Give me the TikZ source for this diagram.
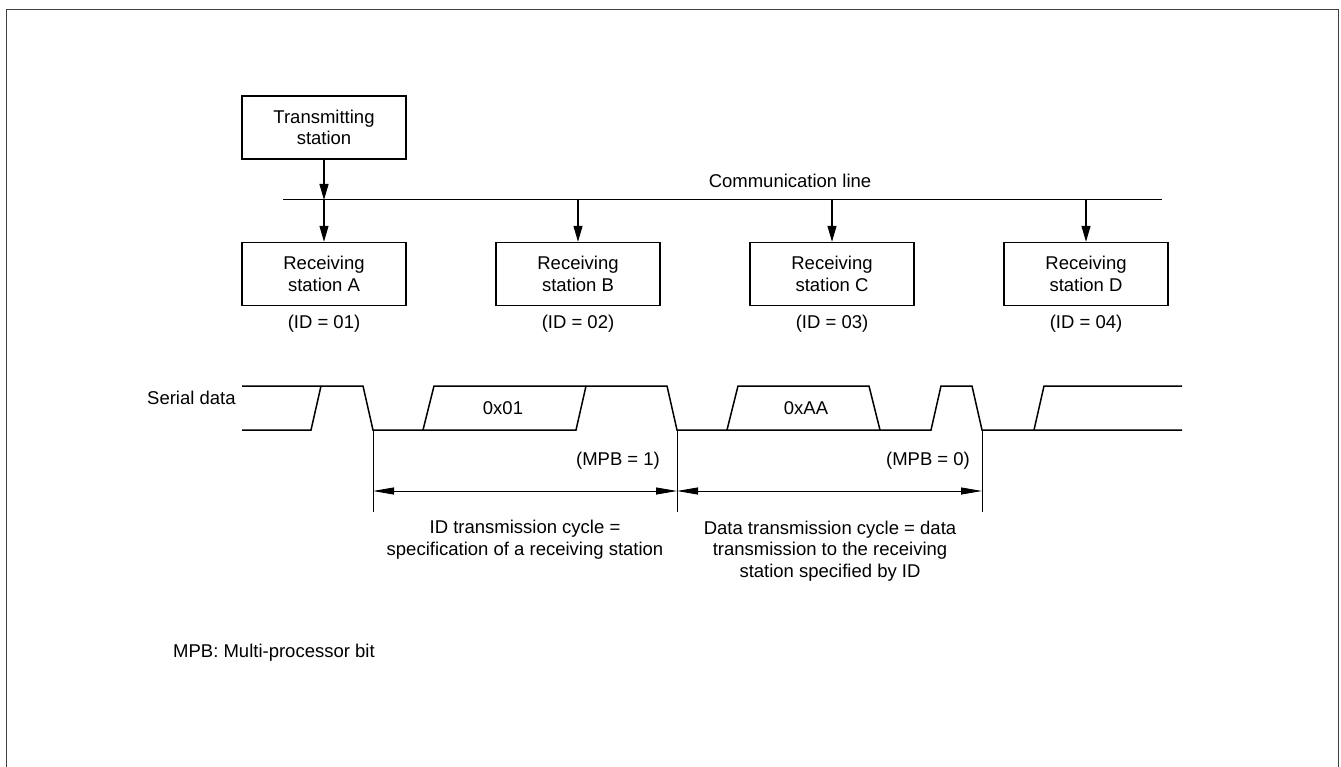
\documentclass[tikz,border=0pt]{standalone}
\usepackage{fontspec}
\setmainfont{Liberation Sans}
\usetikzlibrary{arrows.meta}
\begin{document}
\begin{tikzpicture}[x=1pt,y=-1pt,
  every node/.style={font=\fontsize{18.5}{21.7}\selectfont, inner sep=0pt, align=center},
  stbox/.style={draw, line width=1.4pt, minimum width=164pt, minimum height=63pt},
  arr/.style={line width=1.2pt, -{Triangle[length=16pt,width=9pt]}},
  dimarr/.style={line width=0.9pt, {Triangle[length=21pt,width=7pt]}-{Triangle[length=21pt,width=7pt]}},
  wave/.style={line width=1.5pt, line join=miter},
  commline/.style={line width=1pt},
  frameline/.style={line width=1.3pt, black!75}]
\useasboundingbox (0,0) rectangle (1341,767);
% frame
\draw[frameline] (6.5,767) -- (6.5,9.5) -- (1338.5,9.5) -- (1338.5,767);

% stations
\node[stbox] (tx) at (324,127.5) {Transmitting\\station};
\node[stbox] (ra) at (324,274) {Receiving\\station A};
\node[stbox] (rb) at (578,274) {Receiving\\station B};
\node[stbox] (rc) at (832,274) {Receiving\\station C};
\node[stbox] (rd) at (1086,274) {Receiving\\station D};

\node (ida) at (324,324) {(ID = 01)};
\node (idb) at (578,324) {(ID = 02)};
\node (idc) at (832,324) {(ID = 03)};
\node (idd) at (1086,324) {(ID = 04)};

% communication line
\coordinate (cl1) at (283,200);
\coordinate (cl2) at (1162,200);
\draw[commline] (cl1) -- (cl2);
\node (cltext) at (790,181) {Communication line};

\draw[arr] (tx.south) -- (tx.south |- cl1);
\draw[arr] (ra.north |- cl1) -- (ra.north);
\draw[arr] (rb.north |- cl1) -- (rb.north);
\draw[arr] (rc.north |- cl1) -- (rc.north);
\draw[arr] (rd.north |- cl1) -- (rd.north);

% serial data waveform
\node[anchor=west] (sd) at (147,398) {Serial data};
\coordinate (f1) at (373,430);
\coordinate (f2) at (677,430);
\coordinate (f3) at (982,430);
\draw[wave] (242,430) -- (311,430) -- (321,386);
\draw[wave] (242,386) -- (363,386) -- (f1) -- (576,430) -- (586,386);
\draw[wave] (423,430) -- (434,386) -- (667,386) -- (f2) -- (931,430) -- (941,386) -- (972,386) -- (f3) -- (1182,430);
\draw[wave] (727,430) -- (738,386) -- (869,386) -- (880,430);
\draw[wave] (1034,430) -- (1044,386) -- (1182,386);

\node (v1) at (503,408) {0x01};
\node (v2) at (806,408) {0xAA};
\node (m1) at (618,461) {(MPB = 1)};
\node (m0) at (928,461) {(MPB = 0)};

% dimensions
\coordinate (e1) at (373,512);
\coordinate (e2) at (677,512);
\coordinate (e3) at (982,512);
\coordinate (d1) at (373,491);
\coordinate (d2) at (677,491);
\coordinate (d3) at (982,491);
\draw[commline] (f1) -- (e1);
\draw[commline] (f2) -- (e2);
\draw[commline] (f3) -- (e3);
\draw[dimarr] (d1) -- (d2);
\draw[dimarr] (d2) -- (d3);

\node (t1) at (525,540) {ID transmission cycle =\\specification of a receiving station};
\node (t2) at (830,551) {Data transmission cycle = data\\transmission to the receiving\\station specified by ID};

\node[anchor=west] (note) at (173,653) {MPB: Multi-processor bit};
\end{tikzpicture}
\end{document}
